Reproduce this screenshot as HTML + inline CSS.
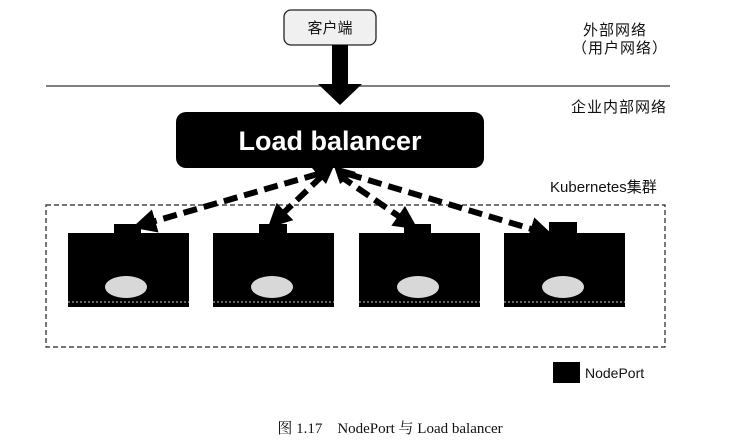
<!DOCTYPE html>
<html><head><meta charset="utf-8"><style>
body{margin:0;background:#fff;}
svg text{font-family:"Liberation Sans","Noto Sans CJK SC",sans-serif;}
</style></head><body>
<svg width="747" height="443" viewBox="0 0 747 443" xmlns="http://www.w3.org/2000/svg">
<defs>
<marker id="ah" markerWidth="4" markerHeight="4" refX="3" refY="2" orient="auto" markerUnits="strokeWidth">
<path d="M0,0 L4,2 L0,4 z" fill="#000"/></marker>
</defs>
<rect x="284" y="10" width="92" height="35" rx="7" fill="#f0f0f0" stroke="#222" stroke-width="1.3"/>
<text x="330" y="33" font-size="15" text-anchor="middle" fill="#111">客户端</text>
<text x="583" y="35" font-size="15" letter-spacing="1" fill="#111">外部网络</text>
<text x="572" y="53" font-size="15" letter-spacing="1" fill="#111">（用户网络）</text>
<line x1="46" y1="86" x2="670" y2="86" stroke="#333" stroke-width="1.3"/>
<rect x="332" y="45" width="16" height="42" fill="#000"/>
<polygon points="318,84 362,84 340,105" fill="#000"/>
<text x="571" y="112" font-size="15" letter-spacing="1" fill="#111">企业内部网络</text>
<rect x="176" y="112" width="308" height="56" rx="10" fill="#000"/>
<text x="330" y="150" font-size="27" font-weight="bold" text-anchor="middle" fill="#fff">Load balancer</text>
<text x="550" y="192" font-size="15" fill="#111">Kubernetes集群</text>
<rect x="46" y="205" width="619" height="142" fill="none" stroke="#222" stroke-width="1.2" stroke-dasharray="5,3"/>
<g fill="#000">
<rect x="68" y="233" width="121" height="74"/><rect x="114" y="224" width="27" height="10"/>
<rect x="213" y="233" width="121" height="74"/><rect x="259" y="224" width="28" height="10"/>
<rect x="359" y="233" width="121" height="74"/><rect x="404" y="224" width="27" height="10"/>
<rect x="504" y="233" width="121" height="74"/><rect x="549" y="222" width="28" height="12"/>
</g>
<g stroke="#ccc" stroke-width="1" stroke-dasharray="2,2">
<line x1="68" y1="302" x2="189" y2="302"/><line x1="213" y1="302" x2="334" y2="302"/>
<line x1="359" y1="302" x2="480" y2="302"/><line x1="504" y1="302" x2="625" y2="302"/>
</g>
<g fill="#d8d8d8">
<ellipse cx="126" cy="287" rx="21" ry="11"/><ellipse cx="272" cy="287" rx="21" ry="11"/>
<ellipse cx="418" cy="287" rx="21" ry="11"/><ellipse cx="563" cy="287" rx="21" ry="11"/>
</g>
<g stroke="#000" stroke-width="6" stroke-dasharray="14,7" fill="none" marker-end="url(#ah)">
<line x1="318" y1="174" x2="138" y2="226"/>
<line x1="322" y1="176" x2="272" y2="224"/>
<line x1="340" y1="176" x2="413" y2="226"/>
<line x1="348" y1="174" x2="548" y2="234"/>
</g>
<polygon points="312,168 334,166 326,184" fill="#000"/>
<polygon points="334,166 356,172 340,184" fill="#000"/>
<rect x="553" y="362" width="27" height="21" fill="#000"/>
<text x="585" y="378" font-size="14" fill="#111">NodePort</text>
<text x="390" y="433" font-size="15" text-anchor="middle" fill="#111" style="font-family:'Liberation Serif','Noto Serif CJK SC',serif">图 1.17　NodePort 与 Load balancer</text>
</svg>
</body></html>
